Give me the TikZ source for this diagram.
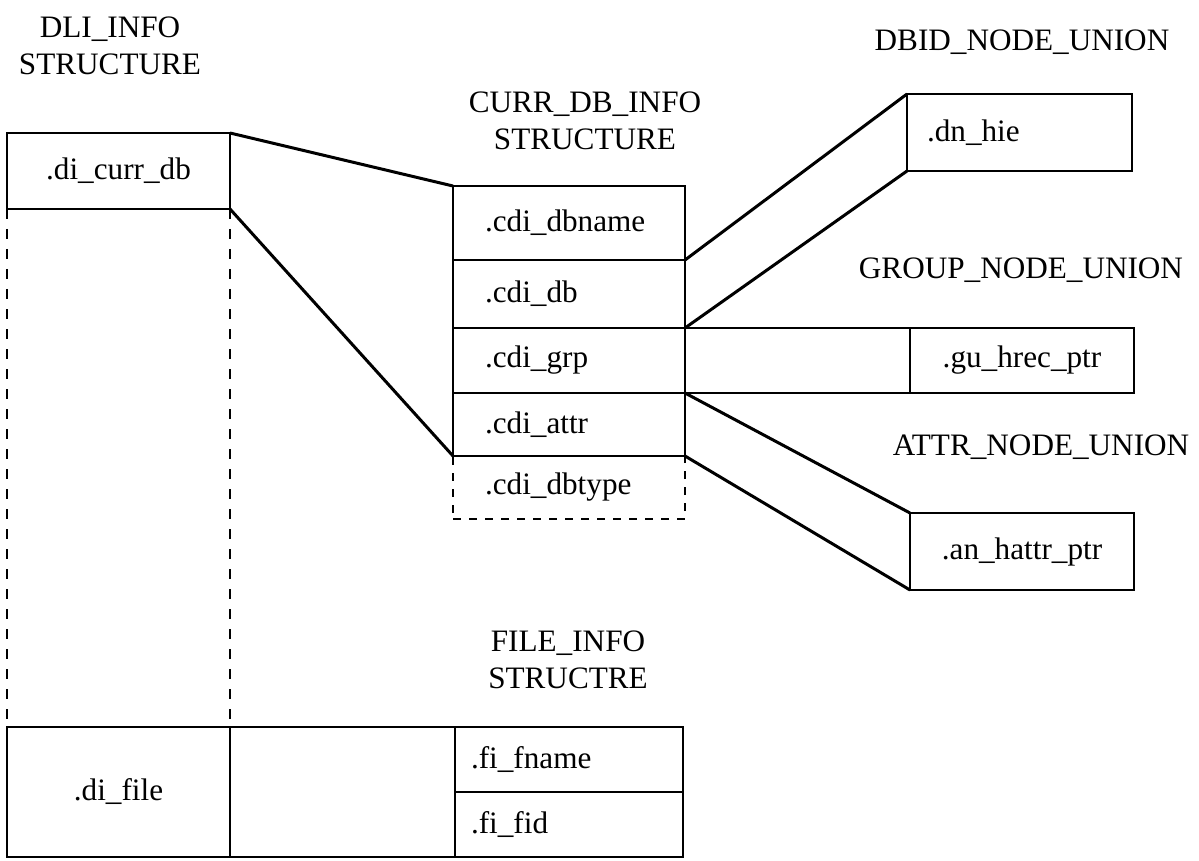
\documentclass[tikz,border=0pt]{standalone}
\usepackage{fontspec}
\setmainfont{Liberation Serif}
\usetikzlibrary{positioning}

\tikzset{
  title/.style={align=center, font=\fontsize{15.6}{18.5}\selectfont},
  field/.style={draw, line width=1pt, inner ysep=0pt, outer sep=0pt, anchor=north west,
    font=\fontsize{15.6}{18}\selectfont},
  lfield/.style={field, align=left, text width=#1},
  cfield/.style={field, align=center, inner xsep=0pt},
  link/.style={line width=1.5pt},
  ptrline/.style={line width=1.4pt, dash pattern=on 5pt off 5pt},
}

\begin{document}
\begin{tikzpicture}[x=0.5pt, y=-0.5pt]
		%%%%% START %%%%%
		\useasboundingbox (0,0) rectangle (1199,861);
		
		% DLI_INFO structure
		\node[title] (dlititle) at (110,46) {DLI\_INFO\\STRUCTURE};
		\node[cfield, minimum width=111.5pt, minimum height=38pt] (dicurr) at (7,133) {.di\_curr\_db};
		\node[cfield, minimum width=111.5pt, minimum height=65pt] (difile) at (7,727) {.di\_file};
		\node[cfield, minimum width=112.5pt, minimum height=65pt, anchor=north west] (diblank) at (difile.north east) {};
		\draw[ptrline] (dicurr.south west) -- (difile.north west);
		\draw[ptrline] (dicurr.south east) -- (diblank.north west);
		
		% CURR_DB_INFO structure
		\node[title] (cdititle) at (585,121) {CURR\_DB\_INFO\\STRUCTURE};
		\node[lfield=84pt, inner xsep=16pt, minimum height=37pt] (cdiname) at (453,186) {.cdi\_dbname};
		\node[lfield=84pt, inner xsep=16pt, minimum height=34pt] (cdidb) at (cdiname.south west) {.cdi\_db};
		\node[lfield=84pt, inner xsep=16pt, minimum height=32.5pt] (cdigrp) at (cdidb.south west) {.cdi\_grp};
		\node[lfield=84pt, inner xsep=16pt, minimum height=31.5pt] (cdiattr) at (cdigrp.south west) {.cdi\_attr};
		\node[lfield=84pt, inner xsep=16pt, minimum height=31.5pt, dash pattern=on 4pt off 4pt] (cditype) at (cdiattr.south west) {.cdi\_dbtype};
		\draw[field] (cdiattr.south west) -- (cdiattr.south east);
		
		\draw[link] (dicurr.north east) -- (cdiname.north west);
		\draw[link] (dicurr.south east) -- (cdiattr.south west);
		
		% node unions
		\node[title] (dbidtitle) at (1022,42) {DBID\_NODE\_UNION};
		\node[lfield=92.5pt, inner xsep=10pt, minimum height=38.5pt] (dnhie) at (907,94) {.dn\_hie};
		\node[title] (grptitle) at (1021,270) {GROUP\_NODE\_UNION};
		\node[cfield, minimum width=112pt, minimum height=32.5pt] (guhrec) at (910,328) {.gu\_hrec\_ptr};
		\node[title] (attrtitle) at (1041,447) {ATTR\_NODE\_UNION};
		\node[cfield, minimum width=112pt, minimum height=38.5pt] (anhattr) at (910,513) {.an\_hattr\_ptr};
		
		\draw[link] (cdiname.south east) -- (dnhie.north west);
		\draw[link] (cdidb.south east) -- (dnhie.south west);
		\draw[field] (cdigrp.north east) -- (guhrec.north west);
		\draw[field] (cdigrp.south east) -- (guhrec.south west);
		\draw[link] (cdiattr.north east) -- (anhattr.north west);
		\draw[link] (cdiattr.south east) -- (anhattr.south west);
		
		% FILE_INFO structure
		\node[title] (fititle) at (568,660) {FILE\_INFO\\STRUCTRE};
		\node[lfield=98pt, inner xsep=8pt, minimum height=32.5pt] (finame) at (diblank.north east) {.fi\_fname};
		\node[lfield=98pt, inner xsep=8pt, minimum height=32.5pt] (fifid) at (finame.south west) {.fi\_fid};
		
		%%%%% END %%%%%
\end{tikzpicture}
\end{document}
